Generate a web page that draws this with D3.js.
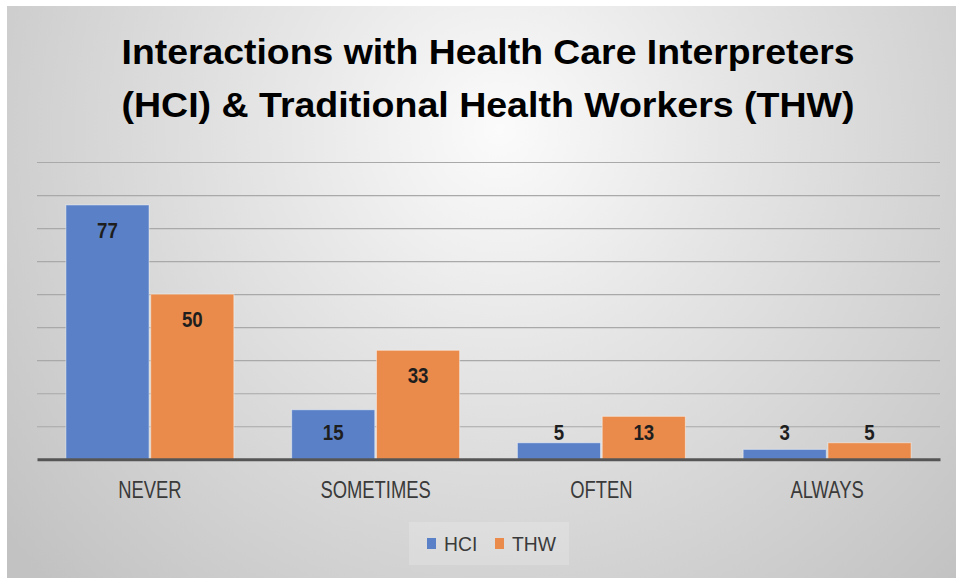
<!DOCTYPE html>
<html>
<head>
<meta charset="utf-8">
<script src="https://cdn.jsdelivr.net/npm/d3@7"></script>
<style>
  body { margin: 0; background: #fff; }
  svg { display: block; }
  text { font-family: "Liberation Sans Narrow", "Arial Narrow", "Liberation Sans", sans-serif; }
</style>
</head>
<body>
<div id="chart"></div>
<script>
// DATA
const categories = ["NEVER", "SOMETIMES", "OFTEN", "ALWAYS"];
const seriesNames = ["HCI", "THW"];
const hciValues = [77, 15, 5, 3];
const thwValues = [50, 33, 13, 5];
const gridTicks = [10, 20, 30, 40, 50, 60, 70, 80, 90];
const titleLines = ["Interactions with Health Care Interpreters", "(HCI) & Traditional  Health Workers (THW)"];

const colors = { HCI: "#5a81c8", THW: "#ea8b4c" };

const W = 961, H = 580;
const margin = { top: 162, right: 21, bottom: 121, left: 37 };
const plotW = W - margin.left - margin.right;
const baseY = 459.3;

// squeeze text to look like the narrow office font
function narrow(sel, k) {
  sel.each(function () {
    const w = this.getComputedTextLength();
    d3.select(this).attr("textLength", w * k).attr("lengthAdjust", "spacingAndGlyphs");
  });
}

const svg = d3.select("#chart").append("svg")
  .attr("width", W)
  .attr("height", H);

// background gradient
const defs = svg.append("defs");
const grad = defs.append("radialGradient")
  .attr("id", "bg")
  .attr("gradientUnits", "userSpaceOnUse")
  .attr("cx", 500).attr("cy", 130).attr("r", 640);
grad.append("stop").attr("offset", "0").attr("stop-color", "#fbfbfb");
grad.append("stop").attr("offset", "0.35").attr("stop-color", "#e6e6e6");
grad.append("stop").attr("offset", "1").attr("stop-color", "#c2c2c2");

svg.append("rect")
  .attr("x", 7).attr("y", 6)
  .attr("width", 949).attr("height", 572)
  .attr("fill", "url(#bg)");

// title
svg.append("g").selectAll("text")
  .data(titleLines)
  .join("text")
  .attr("x", 488)
  .attr("y", (d, i) => 64 + i * 53)
  .attr("text-anchor", "middle")
  .attr("font-size", 35)
  .attr("font-weight", "bold")
  .attr("fill", "#000")
  .attr("textLength", 733)
  .attr("lengthAdjust", "spacingAndGlyphs")
  .text(d => d);

// scales
const x0 = d3.scaleBand()
  .domain(categories)
  .range([margin.left, margin.left + plotW])
  .paddingInner(0.256)
  .paddingOuter(0.128);

const x1 = d3.scaleBand()
  .domain(seriesNames)
  .range([0, x0.bandwidth()])
  .paddingInner(0.02);

const y = d3.scaleLinear()
  .domain([0, 90])
  .range([baseY, margin.top]);

// gridlines
const grid = svg.append("g")
  .attr("transform", `translate(${margin.left},0)`)
  .call(d3.axisLeft(y).tickValues(gridTicks).tickSize(-plotW).tickFormat(""));
grid.select(".domain").remove();
grid.selectAll("line").attr("stroke", "#a9a9a9").attr("stroke-width", 1.2);

// bars
const rows = categories.map((c, i) => ({ cat: c, vals: [
  { key: "HCI", value: hciValues[i] },
  { key: "THW", value: thwValues[i] }
] }));

const groups = svg.append("g").selectAll("g")
  .data(rows)
  .join("g")
  .attr("transform", d => `translate(${x0(d.cat)},0)`);

groups.selectAll("rect")
  .data(d => d.vals)
  .join("rect")
  .attr("x", d => x1(d.key))
  .attr("y", d => y(d.value))
  .attr("width", x1.bandwidth())
  .attr("height", d => y(0) - y(d.value))
  .attr("fill", d => colors[d.key])
  .attr("stroke", "rgba(255,255,255,0.45)")
  .attr("stroke-width", 1);

// data labels (inside end, but kept clear of the axis)
groups.selectAll("text")
  .data(d => d.vals)
  .join("text")
  .attr("x", d => x1(d.key) + x1.bandwidth() / 2)
  .attr("y", d => Math.min(y(d.value) + 25, baseY - 27))
  .attr("dy", "0.35em")
  .attr("text-anchor", "middle")
  .attr("font-size", 22)
  .attr("font-weight", "bold")
  .attr("fill", "#1e1e1e")
  .text(d => d.value)
  .call(narrow, 0.85);

// x axis
const xAxis = svg.append("g")
  .attr("transform", `translate(0,${baseY})`)
  .call(d3.axisBottom(x0).tickSize(0).tickPadding(22));
xAxis.select(".domain").attr("stroke", "#555").attr("stroke-width", 3);
xAxis.selectAll("text")
  .attr("font-size", 23)
  .attr("fill", "#3a3a3a")
  .style("font-family", "'Liberation Sans Narrow', 'Arial Narrow', 'Liberation Sans', sans-serif")
  .call(narrow, 0.8);

// legend
const legend = svg.append("g");
legend.append("rect")
  .attr("x", 409).attr("y", 522)
  .attr("width", 160).attr("height", 43)
  .attr("fill", "rgba(255,255,255,0.18)");
const items = legend.selectAll("g")
  .data(seriesNames)
  .join("g")
  .attr("transform", (d, i) => `translate(${427 + i * 68},0)`);
items.append("rect")
  .attr("x", 0).attr("y", 538)
  .attr("width", 9).attr("height", 11)
  .attr("fill", d => colors[d]);
items.append("text")
  .attr("x", 17).attr("y", 544)
  .attr("dy", "0.35em")
  .attr("font-size", 21)
  .attr("fill", "#3a3a3a")
  .text(d => d)
  .call(narrow, 0.92);
</script>
</body>
</html>
